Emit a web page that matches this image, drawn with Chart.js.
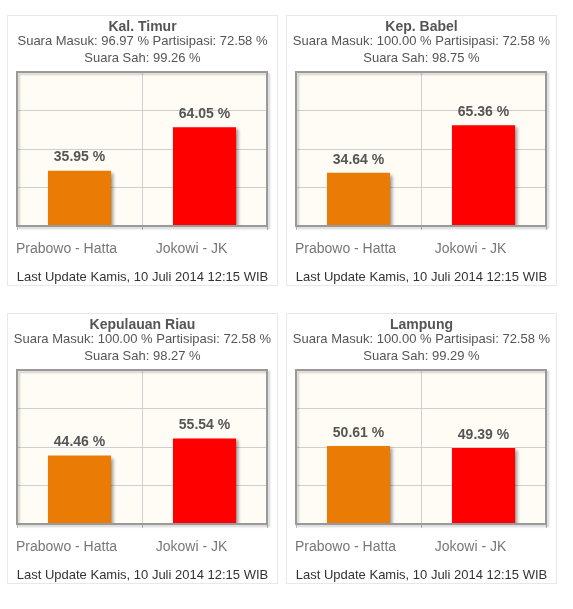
<!DOCTYPE html>
<html>
<head>
<meta charset="utf-8">
<script src="https://cdn.jsdelivr.net/npm/chart.js@4/dist/chart.umd.min.js"></script>
<style>
  body { margin: 0; background: #fff; font-family: "Liberation Sans", Arial, sans-serif; }
  .panel { position: absolute; width: 271px; height: 271px; box-sizing: border-box; border: 1px solid #e8e8e8; background: #fff; }
  .panel canvas { position: absolute; left: -1px; top: -1px; }
  .txt { position: absolute; left: -1px; width: 271px; text-align: center; white-space: nowrap; color: #555; font-size: 13px; }
  .ttl { top: 0px; line-height: 20px; font-weight: bold; font-size: 14px; }
  .l1 { top: 17px; line-height: 16px; }
  .l2 { top: 34px; line-height: 16px; }
  .foot { top: 252px; line-height: 18px; color: #333; }
</style>
</head>
<body>
<div id="wrap"></div>
<script>
// data
const provinces = ["Kal. Timur", "Kep. Babel", "Kepulauan Riau", "Lampung"];
const suaraMasuk = ["96.97", "100.00", "100.00", "100.00"];
const partisipasi = ["72.58", "72.58", "72.58", "72.58"];
const suaraSah = ["99.26", "98.75", "98.27", "99.29"];
const candidates = ["Prabowo - Hatta", "Jokowi - JK"];
const prabowoHatta = [35.95, 34.64, 44.46, 50.61];
const jokowiJK = [64.05, 65.36, 55.54, 49.39];
const yTicks = [0, 25, 50, 75, 100];
const lastUpdate = "Last Update Kamis, 10 Juli 2014 12:15 WIB";

const barColors = ["#ea7b05", "#ff0000"];
const panelPos = [[7, 15], [286, 15], [7, 313], [286, 313]];

// cream plot background
const plotBg = {
  id: "plotBg",
  beforeDraw(chart) {
    const { ctx, chartArea: a } = chart;
    ctx.save();
    ctx.fillStyle = "#fffcf5";
    ctx.fillRect(a.left, a.top, a.right - a.left, a.bottom - a.top);
    ctx.restore();
  }
};

// shadow under bars
const barShadow = {
  id: "barShadow",
  beforeDatasetDraw(chart) {
    const ctx = chart.ctx;
    ctx.save();
    ctx.shadowColor = "rgba(0,0,0,0.35)";
    ctx.shadowOffsetX = 3;
    ctx.shadowOffsetY = 2;
    ctx.shadowBlur = 3;
  },
  afterDatasetDraw(chart) {
    chart.ctx.restore();
  }
};

// plot frame + value labels
const frameAndLabels = {
  id: "frameAndLabels",
  afterDatasetsDraw(chart) {
    const { ctx, chartArea: a } = chart;
    ctx.save();
    ctx.shadowColor = "rgba(0,0,0,0.18)";
    ctx.shadowOffsetX = 2;
    ctx.shadowOffsetY = 2;
    ctx.shadowBlur = 2;
    ctx.strokeStyle = "#999";
    ctx.lineWidth = 2;
    ctx.strokeRect(a.left, a.top, a.right - a.left, a.bottom - a.top);
    ctx.restore();

    ctx.save();
    ctx.font = "bold 14px 'Liberation Sans', Arial, sans-serif";
    ctx.fillStyle = "#555";
    ctx.textAlign = "center";
    ctx.textBaseline = "middle";
    const ds = chart.data.datasets[0];
    chart.getDatasetMeta(0).data.forEach((bar, i) => {
      ctx.fillText(ds.data[i].toFixed(2) + " %", bar.x, bar.y - 13);
    });
    ctx.restore();
  }
};

const wrap = document.getElementById("wrap");

provinces.forEach((name, p) => {
  const panel = document.createElement("div");
  panel.className = "panel";
  panel.style.left = panelPos[p][0] + "px";
  panel.style.top = panelPos[p][1] + "px";
  panel.innerHTML =
    '<canvas width="271" height="271"></canvas>' +
    '<div class="txt ttl">' + name + '</div>' +
    '<div class="txt l1">Suara Masuk: ' + suaraMasuk[p] + ' % Partisipasi: ' + partisipasi[p] + ' %</div>' +
    '<div class="txt l2">Suara Sah: ' + suaraSah[p] + ' %</div>' +
    '<div class="txt foot">' + lastUpdate + '</div>';
  wrap.appendChild(panel);

  new Chart(panel.querySelector("canvas"), {
    type: "bar",
    data: {
      labels: candidates,
      datasets: [{
        data: [prabowoHatta[p], jokowiJK[p]],
        backgroundColor: barColors,
        borderWidth: 0,
        barPercentage: 1,
        categoryPercentage: 0.505
      }]
    },
    options: {
      responsive: false,
      animation: false,
      layout: { padding: { left: 10, right: 11, top: 57, bottom: 0 } },
      plugins: { legend: { display: false }, tooltip: { enabled: false } },
      scales: {
        x: {
          grid: { color: "#cfcfcf", offset: true, tickLength: 4, tickColor: "#bbb" },
          border: { display: false },
          ticks: {
            color: "#777",
            padding: 11,
            labelOffset: -13,
            font: { size: 14, family: "'Liberation Sans', Arial, sans-serif" }
          },
          afterFit(s) { s.height = 60; }
        },
        y: {
          min: 0,
          max: 100,
          afterBuildTicks(s) { s.ticks = yTicks.map(v => ({ value: v })); },
          grid: { color: "#cfcfcf", drawTicks: false },
          border: { display: false },
          ticks: { display: false },
          afterFit(s) { s.width = 0; }
        }
      }
    },
    plugins: [plotBg, barShadow, frameAndLabels]
  });
});
</script>
</body>
</html>
